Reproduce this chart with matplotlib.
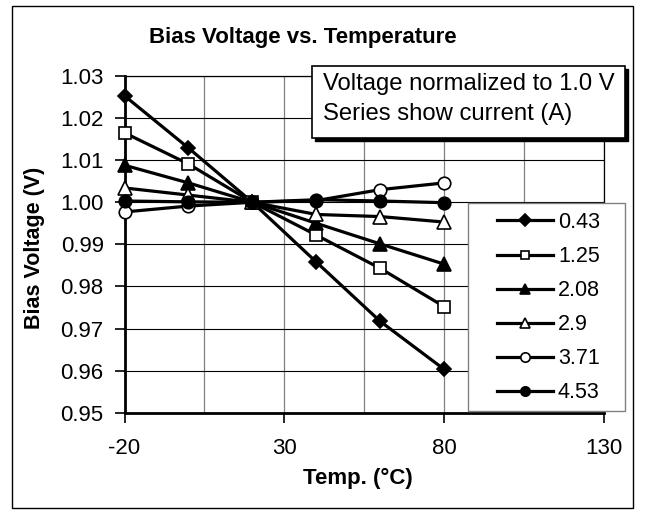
import matplotlib
matplotlib.use("Agg")
import matplotlib.pyplot as plt
import matplotlib.patches as patches
from matplotlib.ticker import FixedLocator

plt.rcParams["font.family"] = ["Liberation Sans", "DejaVu Sans"]

W, H = 649, 514

# data
temps = [-20, 0, 20, 40, 60, 80]
currents = ["0.43", "1.25", "2.08", "2.9", "3.71", "4.53"]
v_043 = [1.0253, 1.0129, 1.0000, 0.9858, 0.9717, 0.9603]
v_125 = [1.0165, 1.0091, 1.0000, 0.9922, 0.9843, 0.9752]
v_208 = [1.0088, 1.0046, 1.0000, 0.9950, 0.9901, 0.9853]
v_290 = [1.0034, 1.0017, 1.0000, 0.9971, 0.9966, 0.9953]
v_371 = [0.9977, 0.9991, 1.0000, 1.0004, 1.0030, 1.0046]
v_453 = [1.0003, 1.0001, 1.0000, 1.0006, 1.0003, 0.9999]
series = [v_043, v_125, v_208, v_290, v_371, v_453]

x_major = [-20, 30, 80, 130]
x_minor = [5, 55, 105]
y_ticks = [0.95, 0.96, 0.97, 0.98, 0.99, 1.00, 1.01, 1.02, 1.03]

# marker styles per series (marker, face colour, size)
styles = [("D", "black", 7.5), ("s", "white", 8.5), ("^", "black", 9.5),
          ("^", "white", 9.5), ("o", "white", 9), ("o", "black", 9)]


def fx(x):
    return x / W


def fy(y):
    return 1 - y / H


fig = plt.figure(figsize=(W / 100, H / 100), dpi=100)

# outer chart frame
fig.patches.append(patches.Rectangle(
    (fx(11.7), fy(508)), fx(633) - fx(11.7), fy(5.7) - fy(508),
    transform=fig.transFigure, fill=False, edgecolor="black", lw=1, zorder=0))

ax = fig.add_axes([fx(124.5), fy(412.7), fx(604) - fx(124.5), fy(76) - fy(412.7)])

for vals, (m, fc, ms), lab in zip(series, styles, currents):
    ax.plot(temps, vals, color="black", lw=2.3, marker=m, markersize=ms,
            markerfacecolor=fc, markeredgecolor="black", markeredgewidth=1.2,
            label=lab, clip_on=False, zorder=3)

ax.set_xlim(-20, 130)
ax.set_ylim(0.95, 1.03)
ax.xaxis.set_major_locator(FixedLocator(x_major))
ax.xaxis.set_minor_locator(FixedLocator(x_minor))
ax.yaxis.set_major_locator(FixedLocator(y_ticks))
ax.set_yticklabels([f"{v:.2f}" for v in y_ticks])
ax.set_xticklabels([str(v) for v in x_major])

ax.grid(axis="y", which="major", color="black", lw=0.8)
ax.grid(axis="x", which="both", color="#808080", lw=0.9)
ax.set_axisbelow(True)

ax.tick_params(axis="both", which="major", direction="out", length=7,
               width=1.2, labelsize=16, color="black")
ax.tick_params(axis="y", pad=8)
ax.tick_params(axis="x", pad=11)
ax.tick_params(which="minor", length=0)

for side in ["left", "bottom"]:
    ax.spines[side].set_linewidth(2)
for side in ["top", "right"]:
    ax.spines[side].set_linewidth(0.9)

fig.text(fx(303), fy(38), "Bias Voltage vs. Temperature", ha="center",
         va="center", fontsize=16, fontweight="bold")
fig.text(fx(35), fy(248), "Bias Voltage (V)", rotation=90, ha="center",
         va="center", fontsize=15.5, fontweight="bold")
fig.text(fx(357.5), fy(478), "Temp. (°C)", ha="center", va="center",
         fontsize=16, fontweight="bold")

# note box with shadow
bx0, by0, bx1, by1 = 312, 66, 625, 138
fig.patches.append(patches.Rectangle(
    (fx(bx0 + 3), fy(by1 + 3)), fx(bx1) - fx(bx0), fy(by0) - fy(by1),
    transform=fig.transFigure, facecolor="black", edgecolor="black", zorder=4))
fig.patches.append(patches.Rectangle(
    (fx(bx0), fy(by1)), fx(bx1) - fx(bx0), fy(by0) - fy(by1),
    transform=fig.transFigure, facecolor="white", edgecolor="black", lw=1.2,
    zorder=5))
fig.text(fx(323), fy(90), "Voltage normalized to 1.0 V", ha="left",
         va="baseline", fontsize=17.2, zorder=6)
fig.text(fx(323), fy(120), "Series show current (A)", ha="left",
         va="baseline", fontsize=17.2, zorder=6)

# legend box
lx0, ly0, lx1, ly1 = 468, 203, 625, 411
fig.patches.append(patches.Rectangle(
    (fx(lx0), fy(ly1)), fx(lx1) - fx(lx0), fy(ly0) - fy(ly1),
    transform=fig.transFigure, facecolor="white", edgecolor="#808080", lw=1,
    zorder=4))
fs = 15.5
fs_px = fs * 100 / 72
leg = ax.legend(loc="upper left", bbox_to_anchor=(fx(497), fy(212)),
                bbox_transform=fig.transFigure, frameon=False, fontsize=fs,
                borderpad=0, borderaxespad=0, handlelength=56 / fs_px,
                handletextpad=5 / fs_px, labelspacing=0.607, markerscale=0.75)
leg.remove()
fig.add_artist(leg)
leg.set_zorder(7)

fig.savefig("out.png", dpi=100)
